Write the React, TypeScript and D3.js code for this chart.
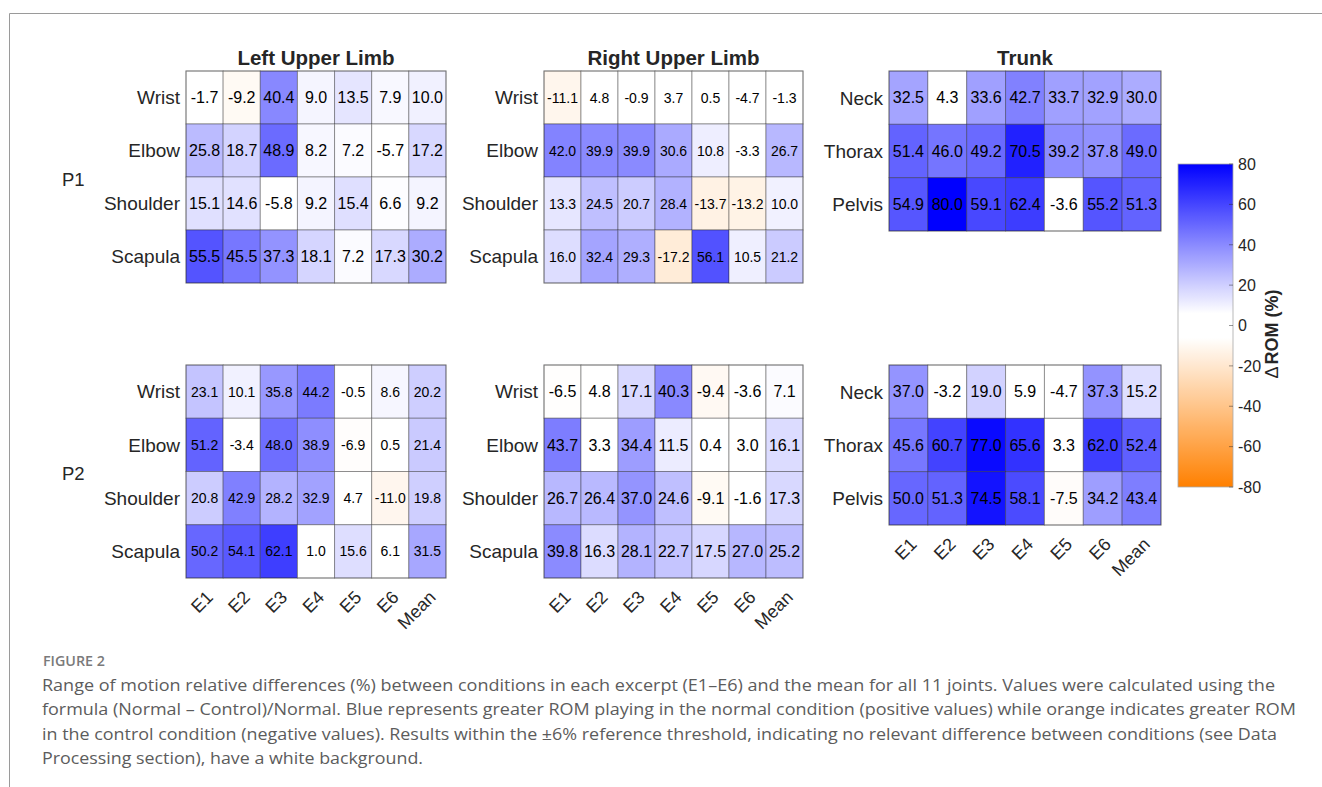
import React from "react";
import * as d3 from "d3";

// Column labels shared by every heatmap (six excerpts plus the mean)
const excerpts = ["E1", "E2", "E3", "E4", "E5", "E6", "Mean"];
const upperLimbJoints = ["Wrist", "Elbow", "Shoulder", "Scapula"];
const trunkJoints = ["Neck", "Thorax", "Pelvis"];
const participants = ["P1", "P2"];
const regionTitles = ["Left Upper Limb", "Right Upper Limb", "Trunk"];

// ΔROM (%) per joint (rows) and excerpt (columns)
const leftP1 = [
  [-1.7, -9.2, 40.4, 9.0, 13.5, 7.9, 10.0],
  [25.8, 18.7, 48.9, 8.2, 7.2, -5.7, 17.2],
  [15.1, 14.6, -5.8, 9.2, 15.4, 6.6, 9.2],
  [55.5, 45.5, 37.3, 18.1, 7.2, 17.3, 30.2],
];
const rightP1 = [
  [-11.1, 4.8, -0.9, 3.7, 0.5, -4.7, -1.3],
  [42.0, 39.9, 39.9, 30.6, 10.8, -3.3, 26.7],
  [13.3, 24.5, 20.7, 28.4, -13.7, -13.2, 10.0],
  [16.0, 32.4, 29.3, -17.2, 56.1, 10.5, 21.2],
];
const trunkP1 = [
  [32.5, 4.3, 33.6, 42.7, 33.7, 32.9, 30.0],
  [51.4, 46.0, 49.2, 70.5, 39.2, 37.8, 49.0],
  [54.9, 80.0, 59.1, 62.4, -3.6, 55.2, 51.3],
];
const leftP2 = [
  [23.1, 10.1, 35.8, 44.2, -0.5, 8.6, 20.2],
  [51.2, -3.4, 48.0, 38.9, -6.9, 0.5, 21.4],
  [20.8, 42.9, 28.2, 32.9, 4.7, -11.0, 19.8],
  [50.2, 54.1, 62.1, 1.0, 15.6, 6.1, 31.5],
];
const rightP2 = [
  [-6.5, 4.8, 17.1, 40.3, -9.4, -3.6, 7.1],
  [43.7, 3.3, 34.4, 11.5, 0.4, 3.0, 16.1],
  [26.7, 26.4, 37.0, 24.6, -9.1, -1.6, 17.3],
  [39.8, 16.3, 28.1, 22.7, 17.5, 27.0, 25.2],
];
const trunkP2 = [
  [37.0, -3.2, 19.0, 5.9, -4.7, 37.3, 15.2],
  [45.6, 60.7, 77.0, 65.6, 3.3, 62.0, 52.4],
  [50.0, 51.3, 74.5, 58.1, -7.5, 34.2, 43.4],
];

const colorbarTicks = [80, 60, 40, 20, 0, -20, -40, -60, -80];

const captionHeading = "FIGURE 2";
const captionLines = [
  "Range of motion relative differences (%) between conditions in each excerpt (E1–E6) and the mean for all 11 joints. Values were calculated using the",
  "formula (Normal – Control)/Normal. Blue represents greater ROM playing in the normal condition (positive values) while orange indicates greater ROM",
  "in the control condition (negative values). Results within the ±6% reference threshold, indicating no relevant difference between conditions (see Data",
  "Processing section), have a white background.",
];
const captionWidths = [1233, 1254, 1235, 381];

// Diverging map: white inside the ±6% threshold, orange below, blue above
const color = d3
  .scaleLinear<string>()
  .domain([-80, -6, 6, 80])
  .range(["#ff8000", "#ffffff", "#ffffff", "#0000ff"])
  .interpolate(d3.interpolateRgb)
  .clamp(true);

const FONT = "'Liberation Sans', Arial, Helvetica, sans-serif";
const INK = "#262626";

type PanelSpec = {
  values: number[][];
  rows: string[];
  x0: number;
  x1: number;
  y0: number;
  y1: number;
  showX: boolean;
};

function Heatmap({ values, rows, x0, x1, y0, y1, showX }: PanelSpec) {
  const x = d3.scaleBand<string>().domain(excerpts).range([x0, x1]);
  const y = d3.scaleBand<string>().domain(rows).range([y0, y1]);
  const labels = values.map((r) => r.map((v) => v.toFixed(1)));
  const longest = d3.max(labels.flat(), (s) => s.length) ?? 4;
  // shrink the cell labels when a five-character value has to fit
  const cellFont = longest >= 5 ? 14 : 16;
  const gridStroke = "rgba(38,38,38,0.4)";
  return (
    <g>
      {values.map((row, i) =>
        row.map((v, j) => (
          <rect
            key={`c${i}-${j}`}
            x={x(excerpts[j])}
            y={y(rows[i])}
            width={x.bandwidth()}
            height={y.bandwidth()}
            fill={color(v)}
            stroke={gridStroke}
            strokeWidth={1}
          />
        ))
      )}
      {values.map((row, i) =>
        row.map((v, j) => (
          <text
            key={`t${i}-${j}`}
            x={(x(excerpts[j]) ?? 0) + x.bandwidth() / 2}
            y={(y(rows[i]) ?? 0) + y.bandwidth() / 2}
            dy="0.36em"
            textAnchor="middle"
            fontSize={cellFont}
            fill="#000"
          >
            {labels[i][j]}
          </text>
        ))
      )}
      <rect x={x0} y={y0} width={x1 - x0} height={y1 - y0} fill="none" stroke={gridStroke} strokeWidth={1} />
      {rows.map((r) => (
        <text
          key={r}
          x={x0 - 6}
          y={(y(r) ?? 0) + y.bandwidth() / 2}
          dy="0.36em"
          textAnchor="end"
          fontSize={19}
          fill={INK}
        >
          {r}
        </text>
      ))}
      {showX &&
        excerpts.map((c) => {
          const cx = (x(c) ?? 0) + x.bandwidth() / 2 + 5;
          const cy = y1 + 16;
          return (
            <text
              key={c}
              transform={`translate(${cx},${cy}) rotate(-45)`}
              dy="0.35em"
              textAnchor="end"
              fontSize={18}
              fill={INK}
            >
              {c}
            </text>
          );
        })}
    </g>
  );
}

export default function App() {
  const panels: PanelSpec[] = [
    { values: leftP1, rows: upperLimbJoints, x0: 186, x1: 446, y0: 71, y1: 283, showX: false },
    { values: rightP1, rows: upperLimbJoints, x0: 544, x1: 803, y0: 71, y1: 283, showX: false },
    { values: trunkP1, rows: trunkJoints, x0: 889, x1: 1161, y0: 71, y1: 231, showX: false },
    { values: leftP2, rows: upperLimbJoints, x0: 186, x1: 446, y0: 365, y1: 578, showX: true },
    { values: rightP2, rows: upperLimbJoints, x0: 544, x1: 803, y0: 365, y1: 578, showX: true },
    { values: trunkP2, rows: trunkJoints, x0: 889, x1: 1161, y0: 365, y1: 525, showX: true },
  ];

  // colour bar
  const cbX = 1178;
  const cbW = 55;
  const cbScale = d3.scaleLinear().domain([-80, 80]).range([487, 164]);
  const stops = d3.range(-80, 80.01, 2);

  return (
    <svg
      width={1322}
      height={787}
      style={{ position: "absolute", left: 0, top: 0, background: "#fff" }}
      fontFamily={FONT}
    >
      <rect width={1322} height={787} fill="#fff" />
      {/* page frame */}
      <line x1={9.5} y1={13.5} x2={1322} y2={13.5} stroke="#9a9a9a" strokeWidth={1} />
      <line x1={9.5} y1={13.5} x2={9.5} y2={787} stroke="#9a9a9a" strokeWidth={1} />

      {regionTitles.map((t, i) => (
        <text
          key={t}
          x={(panels[i].x0 + panels[i].x1) / 2}
          y={65}
          textAnchor="middle"
          fontSize={20.5}
          fontWeight="bold"
          fill={INK}
        >
          {t}
        </text>
      ))}

      {participants.map((p, i) => (
        <text
          key={p}
          x={62}
          y={(panels[i * 3].y0 + panels[i * 3].y1) / 2 + 8.5}
          fontSize={18.5}
          fill={INK}
        >
          {p}
        </text>
      ))}

      {panels.map((p, i) => (
        <Heatmap key={i} {...p} />
      ))}

      <defs>
        <linearGradient id="cbGrad" x1="0" y1="1" x2="0" y2="0">
          {stops.map((v) => (
            <stop key={v} offset={`${((v + 80) / 160) * 100}%`} stopColor={color(v)} />
          ))}
        </linearGradient>
      </defs>
      <rect x={cbX} y={164} width={cbW} height={487 - 164} fill="url(#cbGrad)" stroke="#a8a8a8" strokeWidth={0.8} />
      {colorbarTicks.map((t) => (
        <g key={t}>
          <line x1={cbX + cbW - 4} x2={cbX + cbW} y1={cbScale(t)} y2={cbScale(t)} stroke={INK} strokeOpacity={0.6} strokeWidth={0.8} />
          <text x={cbX + cbW + 5} y={cbScale(t)} dy="0.36em" fontSize={16} fill={INK}>
            {t}
          </text>
        </g>
      ))}
      <text
        transform={`translate(1278,334) rotate(-90)`}
        textAnchor="middle"
        fontSize={18}
        fill={INK}
      >
        <tspan fontWeight="normal">Δ</tspan>
        <tspan fontWeight="bold" dx={2}>ROM (%)</tspan>
      </text>

      {/* caption */}
      <text
        x={43}
        y={666}
        fontFamily="'Open Sans', 'Noto Sans', sans-serif"
        fontSize={13.5}
        fontWeight={600}
        fill="#7a7a7a"
        textLength={62}
        lengthAdjust="spacingAndGlyphs"
      >
        {captionHeading}
      </text>
      {captionLines.map((line, i) => (
        <text
          key={i}
          x={42}
          y={691 + i * 24.4}
          fontFamily="'Open Sans', 'Noto Sans', sans-serif"
          fontSize={16.5}
          fill="#5c5c5c"
          textLength={captionWidths[i]}
          lengthAdjust="spacingAndGlyphs"
        >
          {line}
        </text>
      ))}
    </svg>
  );
}
